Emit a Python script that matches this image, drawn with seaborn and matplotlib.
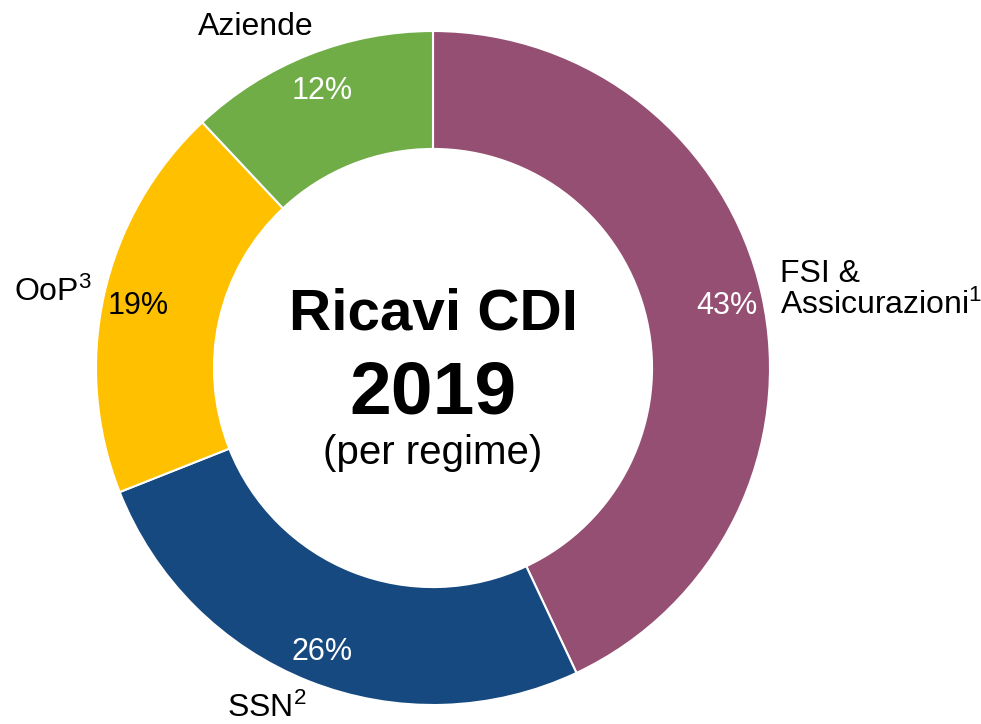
import matplotlib
matplotlib.use("Agg")
import matplotlib.pyplot as plt
import seaborn as sns

labels = ["FSI &\nAssicurazioni$^1$", "SSN$^2$", "OoP$^3$", "Aziende"]
shares = [43, 26, 19, 12]
colors = ["#954F72", "#15497F", "#FFC000", "#70AD47"]
pct_colors = ["white", "white", "black", "white"]

sns.set_style("white")
plt.rcParams["font.family"] = ["Liberation Sans", "DejaVu Sans"]
plt.rcParams["text.color"] = "black"
plt.rcParams["mathtext.fontset"] = "custom"
plt.rcParams["mathtext.rm"] = "Liberation Sans"
plt.rcParams["mathtext.it"] = "Liberation Sans"

fig = plt.figure(figsize=(9.81, 7.24), dpi=100)
ax = fig.add_axes([0, 0, 1, 1])

H = 724
cx, cy, r = 433, H - 368, 337
wedges, _, autotexts = ax.pie(
    shares, colors=colors, startangle=90, counterclock=False,
    center=(cx, cy), radius=r, autopct="%d%%", pctdistance=0.895,
    wedgeprops=dict(width=r * 0.35, edgecolor="white", linewidth=1.5),
    textprops=dict(fontsize=22),
)
# pie resets the limits, so set them afterwards
ax.set_xlim(0, 981)
ax.set_ylim(0, H)
ax.set_aspect("equal")
ax.axis("off")

for t, c in zip(autotexts, pct_colors):
    t.set_color(c)
    t.set_va("center_baseline")

# outer category labels (pixel positions from top-left)
label_pos = [(780, 290, "left"), (267, 708, "center"), (92, 292, "right"), (256, 27, "center")]
for lab, (x, y, ha) in zip(labels, label_pos):
    ax.text(x, H - y, lab, ha=ha, va="center", fontsize=23, linespacing=1.0)

ax.text(cx, H - 308, "Ricavi CDI", ha="center", va="center_baseline", fontsize=42, fontweight="bold")
ax.text(cx, H - 387, "2019", ha="center", va="center_baseline", fontsize=54, fontweight="bold")
ax.text(cx, H - 453, "(per regime)", ha="center", va="center", fontsize=29)

fig.savefig("out.png", dpi=100)
